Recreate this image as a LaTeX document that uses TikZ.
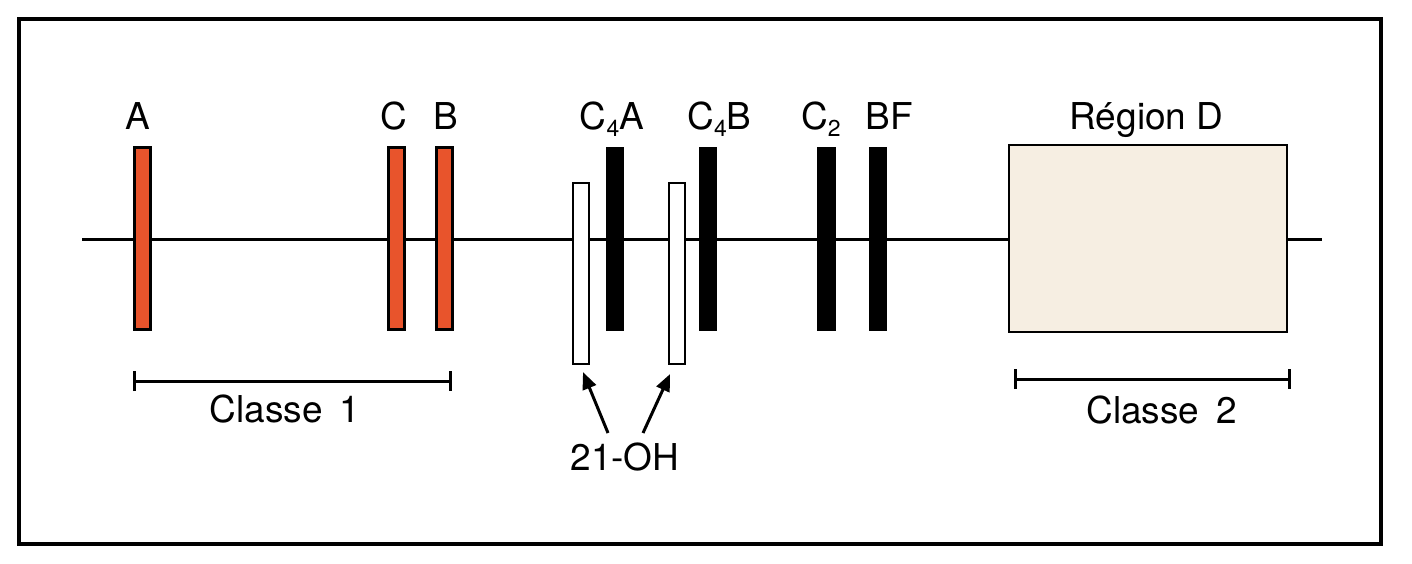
\documentclass[tikz,border=0pt]{standalone}
\usepackage{fontspec}
\setmainfont{TeX Gyre Heros}
\usetikzlibrary{arrows.meta}
\definecolor{barred}{RGB}{232,84,44}
\definecolor{regionfill}{RGB}{246,238,226}
\tikzset{
  bar/.style={draw=black, line width=2.2pt, inner sep=0pt, minimum width=16pt, minimum height=182pt},
  redbar/.style={bar, fill=barred},
  blackbar/.style={bar, fill=black},
  whitebar/.style={bar, fill=white, minimum height=181pt},
  lbl/.style={anchor=base, inner sep=0pt, font=\fontsize{37}{42}\selectfont},
  bracket/.style={line width=3pt, {Bar[width=20pt,line width=3pt]}-{Bar[width=20pt,line width=3pt]}},
  pointer/.style={line width=3pt, -{Triangle[length=17pt,width=14pt]}},
}
\newcommand{\subnum}[1]{\raisebox{-7pt}{\fontsize{23}{23}\selectfont #1}}
\begin{document}
\begin{tikzpicture}[x=1pt,y=-1pt]
\useasboundingbox (0,0) rectangle (1412,564);
% frame
\draw[line width=3.2pt] (19,19) rectangle (1381,544);
% main line
\coordinate (L) at (82,239);
\coordinate (R) at (1322,239);
\draw[line width=3pt] (L) -- (R);
% class 1 bars
\node[redbar] (A) at (142.5,238.5) {};
\node[redbar] (C) at (396.5,238.5) {};
\node[redbar] (B) at (444.5,238.5) {};
% 21-OH bars
\node[whitebar] (W1) at (581,273.5) {};
\node[whitebar] (W2) at (677,273.5) {};
% black bars
\node[blackbar] (C4A) at (615,239) {};
\node[blackbar] (C4B) at (708,239) {};
\node[blackbar] (C2) at (826.5,239) {};
\node[blackbar] (BF) at (878,239) {};
% region D
\node[draw=black, line width=2.6pt, fill=regionfill, inner sep=0pt, minimum width=278pt, minimum height=187pt] (D) at (1148,238.5) {};
% labels
\node[lbl] (tA) at (138,130) {A};
\node[lbl] (tC) at (393.5,130) {C};
\node[lbl] (tB) at (445.5,130) {B};
\node[lbl] (tC4A) at (612,130) {C\subnum{4}A};
\node[lbl] (tC4B) at (719.5,130) {C\subnum{4}B};
\node[lbl] (tC2) at (821,130) {C\subnum{2}};
\node[lbl] (tBF) at (889.5,130) {BF};
\node[lbl] (tD) at (1146.5,130) {Région D};
% brackets
\coordinate (k1a) at (133,381);
\coordinate (k1b) at (452,381);
\draw[bracket] (k1a) -- (k1b);
\node[lbl] (cl1) at (285,422) {Classe\hspace{0.45em}1};
\coordinate (k2a) at (1014,379);
\coordinate (k2b) at (1291,379);
\draw[bracket] (k2a) -- (k2b);
\node[lbl] (cl2) at (1161.5,423) {Classe\hspace{0.45em}2};
% 21-OH
\node[lbl] (oh) at (625,470) {21-OH};
\coordinate (t1) at (608,433);
\coordinate (t2) at (643,433);
\draw[pointer] (t1) -- ([xshift=2pt,yshift=-7pt]W1.south);
\draw[pointer] (t2) -- ([xshift=-7pt,yshift=-9pt]W2.south);
\end{tikzpicture}
\end{document}
